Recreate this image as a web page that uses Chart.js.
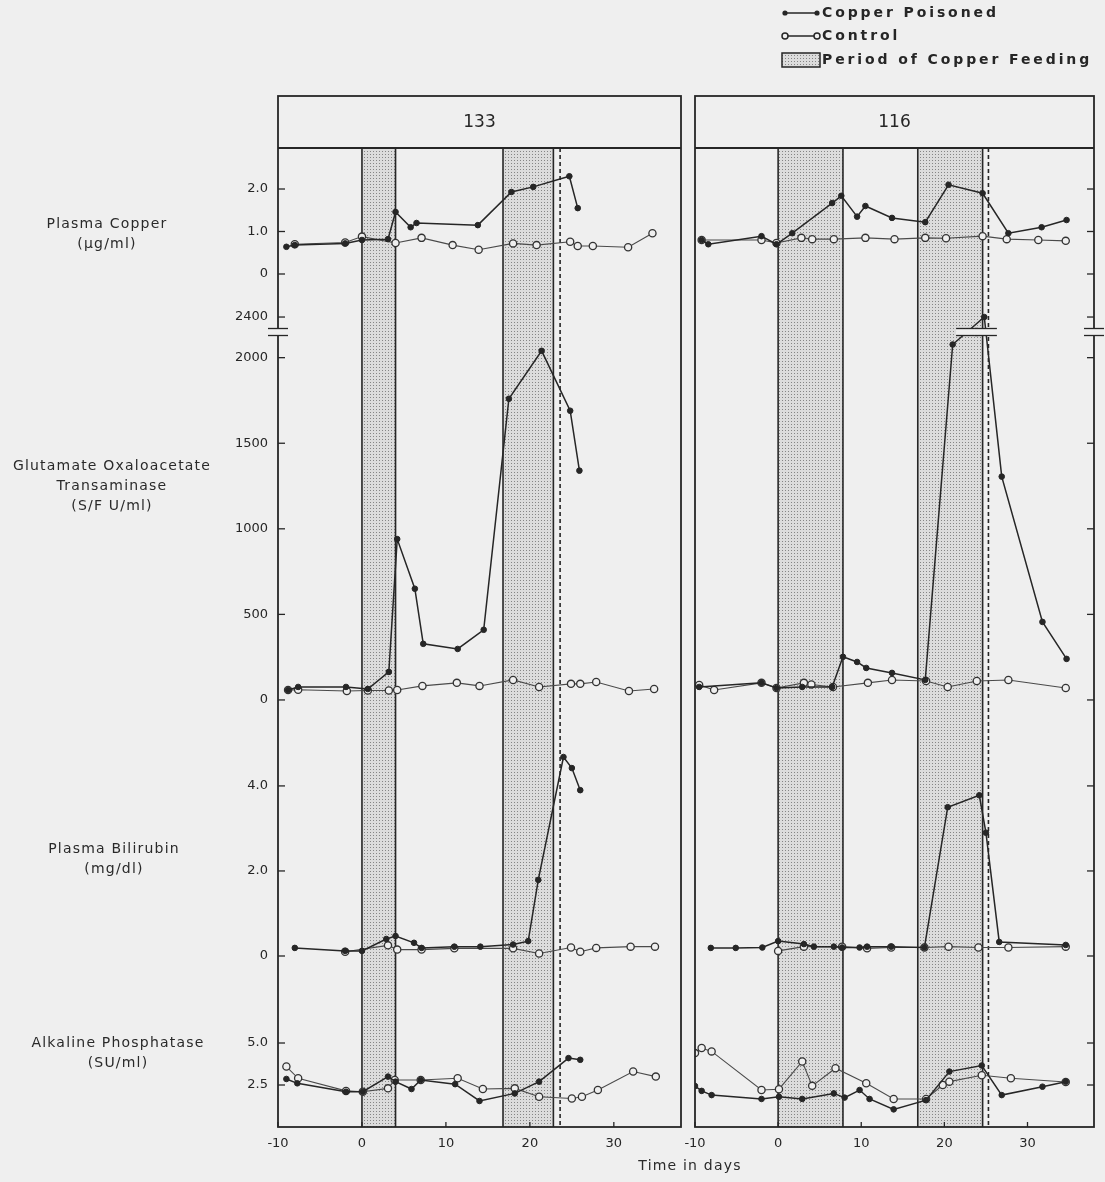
<!DOCTYPE html>
<html lang="en">
<head>
<meta charset="UTF-8">
<title>Copper poisoning, animals 133 and 116</title>
<script src="https://cdn.jsdelivr.net/npm/chart.js"></script>
<style>
  body { margin: 0; background: #efefef; }
  .page { position: relative; width: 1105px; height: 1182px; background: #efefef; font-family: "DejaVu Sans", sans-serif; color: #2a2a2a; overflow: hidden; }
  canvas { position: absolute; top: 0; }
  #c133 { left: 0; }
  #c116 { left: 682px; }
  .lbl { position: absolute; text-align: center; font-size: 14px; line-height: 20px; letter-spacing: 1.2px; }
</style>
</head>
<body>
<div class="page">
  <canvas id="c133" width="690" height="1182"></canvas>
  <canvas id="c116" width="423" height="1182"></canvas>

  <div class="lbl" style="left:0;width:214px;top:213px">Plasma Copper<br>(µg/ml)</div>
  <div class="lbl" style="left:0;width:224px;top:455px">Glutamate Oxaloacetate<br>Transaminase<br>(S/F U/ml)</div>
  <div class="lbl" style="left:0;width:228px;top:838px">Plasma Bilirubin<br>(mg/dl)</div>
  <div class="lbl" style="left:0;width:236px;top:1032px">Alkaline Phosphatase<br>(SU/ml)</div>
  <div class="lbl" style="left:590px;width:200px;top:1155px">Time in days</div>
</div>

<script>
// ---- data (day, value) ----
const xTicks = [-10, 0, 10, 20, 30];
const cuTicks = [0, 1, 2];
const cuLabels = ['0', '1.0', '2.0'];
const gotTicks = [0, 500, 1000, 1500, 2000, 2400];
const biliTicks = [0, 2, 4];
const biliLabels = ['0', '2.0', '4.0'];
const alkTicks = [2.5, 5];
const alkLabels = ['2.5', '5.0'];

// animal 133
const bands133 = [[0, 4], [16.8, 22.8]];
const dash133 = 23.6;
const cu133P = [[-9, 0.64], [-8, 0.68], [-2, 0.72], [0, 0.8], [3.1, 0.82], [4, 1.46], [5.8, 1.1], [6.5, 1.2], [13.8, 1.15], [17.8, 1.93], [20.4, 2.05], [24.7, 2.3], [25.7, 1.55]];
const cu133C = [[-8, 0.7], [-2, 0.74], [0, 0.88], [4, 0.73], [7.1, 0.85], [10.8, 0.68], [13.9, 0.57], [18, 0.72], [20.8, 0.68], [24.8, 0.76], [25.7, 0.66], [27.5, 0.66], [31.7, 0.63], [34.6, 0.96]];
const got133P = [[-8.8, 58], [-7.6, 76], [-1.9, 76], [0.7, 64], [3.2, 164], [4.2, 940], [6.3, 650], [7.3, 328], [11.4, 298], [14.5, 410], [17.5, 1760], [21.4, 2040], [24.8, 1690], [25.9, 1340]];
const got133C = [[-8.8, 58], [-7.6, 60], [-1.8, 52], [0.7, 55], [3.2, 55], [4.2, 58], [7.2, 82], [11.3, 100], [14, 82], [18, 117], [21.1, 76], [24.9, 94], [26, 94], [27.9, 105], [31.8, 52], [34.8, 64]];
const bili133P = [[-8, 0.19], [-2, 0.12], [0, 0.12], [2.9, 0.4], [4, 0.47], [6.2, 0.31], [7.1, 0.19], [11, 0.22], [14.1, 0.22], [18, 0.27], [19.8, 0.35], [21, 1.79], [24, 4.68], [25, 4.42], [26, 3.9]];
const bili133C = [[-2, 0.1], [3.1, 0.25], [4.2, 0.15], [7.1, 0.15], [11, 0.18], [18, 0.18], [21.1, 0.06], [24.9, 0.2], [26, 0.1], [27.9, 0.19], [32, 0.22], [34.9, 0.22]];
const alk133P = [[-9, 2.86], [-7.7, 2.6], [-1.9, 2.1], [0.1, 2.1], [3.1, 3.0], [4, 2.7], [5.9, 2.26], [7, 2.8], [11.1, 2.55], [14, 1.55], [18.2, 2.0], [21.1, 2.7], [24.6, 4.1], [26, 4.0]];
const alk133C = [[-9, 3.6], [-7.6, 2.9], [-1.9, 2.15], [0.1, 2.1], [3.1, 2.3], [3.9, 2.8], [7, 2.8], [11.4, 2.9], [14.4, 2.26], [18.2, 2.3], [21.1, 1.8], [25, 1.7], [26.2, 1.8], [28.1, 2.2], [32.3, 3.3], [35, 3.0]];

// animal 116
const bands116 = [[0, 7.8], [16.8, 24.6]];
const dash116 = 25.3;
const cu116P = [[-9.2, 0.8], [-8.4, 0.7], [-2, 0.89], [-0.2, 0.7], [1.7, 0.96], [6.5, 1.67], [7.6, 1.84], [9.5, 1.35], [10.5, 1.6], [13.7, 1.32], [17.7, 1.22], [20.5, 2.1], [24.6, 1.9], [27.7, 0.96], [31.7, 1.1], [34.7, 1.27]];
const cu116C = [[-9.2, 0.8], [-2, 0.8], [-0.2, 0.73], [2.8, 0.85], [4.1, 0.82], [6.7, 0.82], [10.5, 0.85], [14, 0.82], [17.7, 0.85], [20.2, 0.84], [24.6, 0.89], [27.5, 0.82], [31.3, 0.8], [34.6, 0.78]];
const got116P = [[-9.5, 76], [-2, 100], [-0.2, 70], [2.9, 76], [6.5, 76], [7.8, 252], [9.5, 222], [10.6, 187], [13.7, 158], [17.7, 117], [21, 2077], [24.8, 2400], [26.9, 1305], [31.8, 456], [34.7, 240]];
const got116C = [[-9.5, 88], [-7.7, 58], [-2, 100], [-0.2, 70], [3.1, 100], [4, 90], [6.6, 76], [10.8, 100], [13.7, 117], [17.8, 111], [20.4, 76], [23.9, 111], [27.7, 117], [34.6, 70]];
const bili116P = [[-8.1, 0.19], [-5.1, 0.19], [-1.9, 0.2], [0, 0.35], [3.1, 0.28], [4.3, 0.22], [6.7, 0.22], [7.7, 0.2], [9.8, 0.2], [10.7, 0.22], [13.6, 0.22], [17.6, 0.2], [20.4, 3.5], [24.2, 3.78], [25, 2.9], [26.6, 0.33], [34.6, 0.26]];
const bili116C = [[0, 0.12], [3.1, 0.22], [7.7, 0.22], [10.7, 0.18], [13.6, 0.2], [17.6, 0.2], [20.5, 0.22], [24.1, 0.2], [27.7, 0.2], [34.6, 0.22]];
const alk116P = [[-10, 2.44], [-9.2, 2.15], [-8, 1.9], [-2, 1.67], [0.1, 1.8], [2.9, 1.67], [6.7, 2.0], [8, 1.75], [9.8, 2.2], [11, 1.67], [13.9, 1.05], [17.8, 1.6], [20.6, 3.3], [24.5, 3.66], [26.9, 1.9], [31.8, 2.4], [34.6, 2.7]];
const alk116C = [[-10, 4.4], [-9.2, 4.7], [-8, 4.5], [-2, 2.2], [0.1, 2.25], [2.9, 3.9], [4.1, 2.45], [6.9, 3.5], [10.6, 2.6], [13.9, 1.67], [17.8, 1.67], [19.8, 2.5], [20.6, 2.7], [24.5, 3.08], [28, 2.9], [34.6, 2.68]];

// ---- look ----
const ink = '#262626';
const paper = '#efefef';
const BREAK_AT = 2150;   // GOT axis is broken above 2000
const BREAK_K = 0.35;    // compression of the part above the break

Chart.defaults.font.family = "'DejaVu Sans', sans-serif";
Chart.defaults.color = ink;

// linear scale with a squeezed top part (broken axis)
class BrokenScale extends Chart.LinearScale {
  squeeze(v) {
    return v > BREAK_AT ? BREAK_AT + (v - BREAK_AT) * BREAK_K : v;
  }
  getPixelForValue(v) {
    return super.getPixelForValue(v === null ? null : this.squeeze(v));
  }
}
BrokenScale.id = 'broken';
Chart.register(BrokenScale);

function dotPattern(ctx) {
  const c = document.createElement('canvas');
  c.width = 3; c.height = 3;
  const g = c.getContext('2d');
  g.fillStyle = '#dcdcdc';
  g.fillRect(0, 0, 3, 3);
  g.fillStyle = '#858585';
  g.fillRect(1, 1, 1, 1);
  return ctx.createPattern(c, 'repeat');
}

function pts(a) {
  return a.map(p => ({ x: p[0], y: p[1] }));
}

function poisoned(a, axis) {
  return {
    data: pts(a), yAxisID: axis, showLine: true,
    borderColor: ink, borderWidth: 1.5,
    pointRadius: 2.8, pointBackgroundColor: ink, pointBorderColor: ink, pointBorderWidth: 1
  };
}

function control(a, axis) {
  return {
    data: pts(a), yAxisID: axis, showLine: true,
    borderColor: '#4a4a4a', borderWidth: 1.1,
    pointRadius: 3.6, pointBackgroundColor: paper, pointBorderColor: '#333', pointBorderWidth: 1.3
  };
}

function yScale(type, weight, h, min, max, ticks, labels, showLabels) {
  return {
    type: type, axis: 'y', position: 'left', stack: 'col', stackWeight: h, weight: weight,
    min: min, max: max,
    afterBuildTicks: s => { s.ticks = ticks.map(v => ({ value: v })); },
    afterFit: s => { s.width = showLabels ? 278 : 13; },
    grid: { display: false, drawTicks: false },
    border: { display: false },
    ticks: {
      display: showLabels, autoSkip: false, padding: 10, color: ink,
      font: { size: 13 },
      callback: (v, i) => labels ? labels[i] : String(v)
    }
  };
}

function hline(ctx, x0, x1, y) {
  ctx.beginPath(); ctx.moveTo(x0, y); ctx.lineTo(x1, y); ctx.stroke();
}
function vline(ctx, x, y0, y1) {
  ctx.beginPath(); ctx.moveTo(x, y0); ctx.lineTo(x, y1); ctx.stroke();
}
function breakMark(ctx, x, y, half) {
  ctx.fillStyle = paper;
  ctx.fillRect(x - half, y - 3.5, half * 2, 7);
  hline(ctx, x - half, x + half, y - 3.5);
  hline(ctx, x - half, x + half, y + 3.5);
}

function bandsPlugin(bands, dash) {
  return {
    id: 'bands',
    beforeDatasetsDraw(chart) {
      const { ctx, chartArea: a, scales: { x } } = chart;
      ctx.save();
      ctx.strokeStyle = ink;
      ctx.lineWidth = 1.6;
      bands.forEach(b => {
        const x0 = x.getPixelForValue(b[0]);
        const x1 = x.getPixelForValue(b[1]);
        ctx.fillStyle = dotPattern(ctx);
        ctx.fillRect(x0, a.top, x1 - x0, a.bottom - a.top);
        vline(ctx, x0, a.top, a.bottom);
        vline(ctx, x1, a.top, a.bottom);
      });
      ctx.setLineDash([4, 3]);
      vline(ctx, x.getPixelForValue(dash), a.top, a.bottom);
      ctx.restore();
    }
  };
}

function framePlugin(side) {
  return {
    id: 'frame',
    afterDraw(chart) {
      const { ctx, chartArea: a } = chart;
      const top = chart.titleBlock.top;
      ctx.save();
      ctx.strokeStyle = ink;
      ctx.lineWidth = 1.8;
      ctx.strokeRect(a.left, top, a.right - a.left, a.bottom - top);
      hline(ctx, a.left, a.right, a.top);

      // inward tick marks
      const ax = side === 'left' ? a.left : a.right;
      const dir = side === 'left' ? 1 : -1;
      ctx.lineWidth = 1.3;
      ['cu', 'got', 'bili', 'alk'].forEach(id => {
        const s = chart.scales[id];
        s.ticks.forEach(t => {
          const y = s.getPixelForValue(t.value);
          hline(ctx, ax, ax + dir * 7, y);
        });
      });
      const sx = chart.scales.x;
      sx.ticks.forEach(t => {
        const x = sx.getPixelForValue(t.value);
        vline(ctx, x, a.bottom, a.bottom - 5);
      });

      // axis break
      const by = chart.scales.got.getPixelForValue(BREAK_AT);
      breakMark(ctx, ax, by, 10);

      // breaks on lines that cross it
      chart.data.datasets.forEach((ds, i) => {
        if (ds.yAxisID !== 'got') return;
        const p = chart.getDatasetMeta(i).data;
        for (let k = 1; k < p.length; k++) {
          const y0 = p[k - 1].y, y1 = p[k].y;
          if ((y0 - by) * (y1 - by) < 0) {
            const x = p[k - 1].x + (p[k].x - p[k - 1].x) * (by - y0) / (y1 - y0);
            breakMark(ctx, x, by, 11);
          }
        }
      });
      ctx.restore();
    }
  };
}

const keyPlugin = {
  id: 'key',
  afterDraw(chart) {
    const { ctx, chartArea: a } = chart;
    const x0 = a.left + 90, x1 = a.left + 122, tx = a.left + 127;
    ctx.save();
    ctx.strokeStyle = ink;
    ctx.lineWidth = 1.5;
    ctx.font = "bold 14px 'DejaVu Sans', sans-serif";
    ctx.letterSpacing = '2.9px';
    ctx.textBaseline = 'middle';

    hline(ctx, x0, x1, 13);
    [x0, x1].forEach(x => {
      ctx.fillStyle = ink;
      ctx.beginPath(); ctx.arc(x, 13, 2.6, 0, Math.PI * 2); ctx.fill();
    });
    ctx.fillText('Copper Poisoned', tx, 13);

    hline(ctx, x0, x1, 36);
    [x0, x1].forEach(x => {
      ctx.fillStyle = paper;
      ctx.beginPath(); ctx.arc(x, 36, 3, 0, Math.PI * 2); ctx.fill(); ctx.stroke();
    });
    ctx.fillStyle = ink;
    ctx.fillText('Control', tx, 36);

    ctx.fillStyle = dotPattern(ctx);
    ctx.fillRect(x0 - 3, 53, x1 - x0 + 6, 14);
    ctx.strokeRect(x0 - 3, 53, x1 - x0 + 6, 14);
    ctx.fillStyle = ink;
    ctx.fillText('Period of Copper Feeding', tx, 60);
    ctx.restore();
  }
};

function panel(canvasId, title, s, bands, dash, side, extra) {
  const left = side === 'left';
  return new Chart(document.getElementById(canvasId), {
    type: 'scatter',
    data: {
      datasets: [
        poisoned(s.cuP, 'cu'), control(s.cuC, 'cu'),
        poisoned(s.gotP, 'got'), control(s.gotC, 'got'),
        poisoned(s.biliP, 'bili'), control(s.biliC, 'bili'),
        poisoned(s.alkP, 'alk'), control(s.alkC, 'alk')
      ]
    },
    options: {
      responsive: false,
      animation: false,
      devicePixelRatio: 1,
      events: [],
      layout: { padding: { top: 96, bottom: 0, left: 0, right: left ? 9 : 11 } },
      plugins: {
        legend: { display: false },
        tooltip: { enabled: false },
        title: {
          display: true, text: title, fullSize: false, color: ink,
          font: { size: 17, weight: 'normal', lineHeight: 1.2 },
          padding: { top: 16, bottom: 15.6 }
        }
      },
      scales: {
        x: {
          type: 'linear', min: -10, max: 38,
          afterBuildTicks: sc => { sc.ticks = xTicks.map(v => ({ value: v })); },
          afterFit: sc => { sc.height = 55; sc.paddingLeft = 0; sc.paddingRight = 0; },
          grid: { display: false, drawTicks: false },
          border: { display: false },
          ticks: { padding: 9, color: ink, font: { size: 13 }, autoSkip: false, maxRotation: 0, callback: v => String(v) }
        },
        cu: yScale('linear', 4, 152, -0.612, 2.965, cuTicks, cuLabels, left),
        got: yScale('broken', 3, 440, -234, 2337, gotTicks, null, left),
        bili: yScale('linear', 2, 260, -1.035, 5.08, biliTicks, biliLabels, left),
        alk: yScale('linear', 1, 127, 0, 7.56, alkTicks, alkLabels, left)
      }
    },
    plugins: [bandsPlugin(bands, dash), framePlugin(side)].concat(extra)
  });
}

panel('c133', '133', {
  cuP: cu133P, cuC: cu133C, gotP: got133P, gotC: got133C,
  biliP: bili133P, biliC: bili133C, alkP: alk133P, alkC: alk133C
}, bands133, dash133, 'left', []);

panel('c116', '116', {
  cuP: cu116P, cuC: cu116C, gotP: got116P, gotC: got116C,
  biliP: bili116P, biliC: bili116C, alkP: alk116P, alkC: alk116C
}, bands116, dash116, 'right', [keyPlugin]);
</script>
</body>
</html>
